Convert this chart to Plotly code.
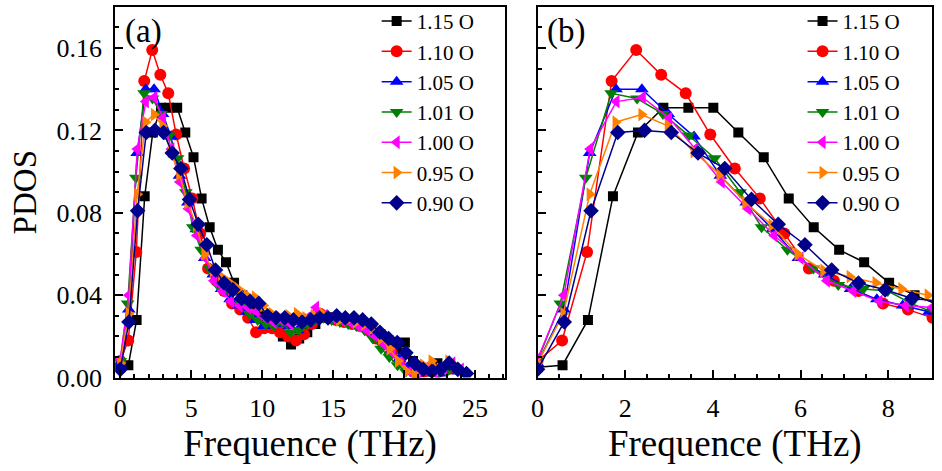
import plotly.graph_objects as go

labels = ["1.15 O", "1.10 O", "1.05 O", "1.01 O", "1.00 O", "0.95 O", "0.90 O"]
colors = ["#000000", "#FF0000", "#0000FF", "#008000", "#FF00FF", "#FF8000", "#00008B"]
symbols = ["square", "circle", "triangle-up", "triangle-down", "triangle-left", "triangle-right", "diamond"]
msizes = [10, 12, 12, 12, 12, 12, 12]

# frequency grids (THz) for each series
x_115 = [0.00, 0.57, 1.15, 1.72, 2.29, 2.87, 3.44, 4.01, 4.58, 5.16, 5.73, 6.30, 6.88, 7.45, 8.02, 8.60,
         9.17, 9.74, 10.31, 10.89, 11.46, 12.03, 12.61, 13.18, 13.75, 14.33, 14.90, 15.47, 16.04, 16.62,
         17.19, 17.76, 18.34, 18.91, 19.48, 20.06, 20.63, 21.20, 21.77, 22.35]
y_115 = [0.005, 0.006, 0.028, 0.088, 0.119, 0.131, 0.131, 0.131, 0.119, 0.107, 0.087, 0.073, 0.062, 0.056, 0.046, 0.040,
         0.035, 0.031, 0.028, 0.025, 0.020, 0.016, 0.019, 0.022, 0.026, 0.029, 0.029, 0.028, 0.027, 0.026,
         0.025, 0.023, 0.021, 0.018, 0.014, 0.017, 0.008, 0.004, 0.003, 0.007]

x_110 = [0.00, 0.56, 1.13, 1.69, 2.25, 2.82, 3.38, 3.94, 4.50, 5.07, 5.63, 6.19, 6.76, 7.32, 7.88, 8.45,
         9.01, 9.57, 10.14, 10.70, 11.26, 11.83, 12.39, 12.95, 13.51, 14.08, 14.64, 15.20, 15.77, 16.33,
         16.89, 17.46, 18.02, 18.58, 19.14, 19.71, 20.27, 20.83, 21.40, 21.96, 22.52, 23.09]
y_110 = [0.008, 0.018, 0.061, 0.144, 0.159, 0.147, 0.138, 0.118, 0.1015, 0.087, 0.070, 0.053, 0.047, 0.042, 0.036, 0.033,
         0.029, 0.022, 0.024, 0.024, 0.022, 0.020, 0.018, 0.021, 0.026, 0.031, 0.029, 0.028, 0.027, 0.026,
         0.025, 0.023, 0.019, 0.016, 0.012, 0.008, 0.004, 0.002, 0.003, 0.005, 0.003, 0.004]

x_105 = [0.00, 0.60, 1.19, 1.79, 2.38, 2.98, 3.57, 4.17, 4.76, 5.36, 5.95, 6.55, 7.14, 7.74, 8.33, 8.93,
         9.52, 10.12, 10.71, 11.31, 11.90, 12.50, 13.09, 13.69, 14.28, 14.88, 15.47, 16.07, 16.66, 17.26,
         17.85, 18.45, 19.04, 19.64, 20.23, 20.83, 21.42, 22.02, 22.61, 23.21, 23.80]
y_105 = [0.007, 0.033, 0.109, 0.140, 0.140, 0.128, 0.117, 0.098, 0.085, 0.072, 0.058, 0.050, 0.043, 0.038, 0.035, 0.032,
         0.028, 0.025, 0.027, 0.026, 0.025, 0.023, 0.026, 0.028, 0.030, 0.029, 0.028, 0.027, 0.026, 0.025,
         0.022, 0.018, 0.013, 0.009, 0.005, 0.002, 0.003, 0.004, 0.002, 0.005, 0.003]

x_101 = [0.00, 0.52, 1.10, 1.68, 2.27, 2.86, 3.45, 4.04, 4.62, 5.11, 5.70, 6.29, 6.86, 7.43, 7.99, 8.52,
         9.10, 9.68, 10.26, 10.84, 11.42, 12.00, 12.58, 13.16, 13.74, 14.32, 14.90, 15.48, 16.06, 16.64,
         17.22, 17.80, 18.38, 18.96, 19.54, 20.12, 20.70, 21.28, 21.86, 22.44, 23.02]
y_101 = [0.008, 0.036, 0.097, 0.138, 0.1355, 0.128, 0.1175, 0.1065, 0.090, 0.073, 0.062, 0.053, 0.045, 0.043, 0.042, 0.036,
         0.031, 0.028, 0.026, 0.025, 0.027, 0.022, 0.023, 0.026, 0.028, 0.029, 0.028, 0.027, 0.026, 0.025,
         0.023, 0.019, 0.014, 0.010, 0.006, 0.003, 0.002, 0.004, 0.003, 0.002, 0.003]

x_100 = [0.0, 0.6, 1.2, 1.8, 2.4, 3.0, 3.6, 4.2, 4.8, 5.4, 6.0, 6.6, 7.2, 7.8, 8.4, 9.0,
         9.6, 10.2, 10.8, 11.4, 12.0, 12.6, 13.2, 13.8, 14.4, 15.0, 15.6, 16.2, 16.8, 17.4,
         18.0, 18.6, 19.2, 19.8, 20.4, 21.0, 21.6, 22.2, 22.8, 23.4, 24.0]
y_100 = [0.009, 0.040, 0.111, 0.134, 0.136, 0.126, 0.111, 0.095, 0.082, 0.069, 0.058, 0.047, 0.042, 0.037, 0.035, 0.034,
         0.032, 0.029, 0.027, 0.028, 0.026, 0.027, 0.029, 0.034, 0.030, 0.029, 0.028, 0.027, 0.025, 0.023,
         0.020, 0.016, 0.012, 0.008, 0.003, 0.002, 0.005, 0.002, 0.004, 0.007, 0.004]

x_095 = [0.00, 0.59, 1.19, 1.78, 2.37, 2.97, 3.56, 4.15, 4.74, 5.34, 5.93, 6.52, 7.12, 7.71, 8.30, 8.90,
         9.49, 10.08, 10.67, 11.27, 11.86, 12.45, 13.05, 13.64, 14.23, 14.83, 15.42, 16.01, 16.60, 17.20,
         17.79, 18.38, 18.98, 19.57, 20.16, 20.76, 21.35, 21.94, 22.53, 23.13, 23.72]
y_095 = [0.007, 0.031, 0.089, 0.124, 0.1277, 0.1222, 0.1097, 0.0987, 0.085, 0.074, 0.060, 0.052, 0.049, 0.046, 0.043, 0.040,
         0.039, 0.035, 0.031, 0.029, 0.030, 0.031, 0.029, 0.030, 0.031, 0.029, 0.028, 0.028, 0.027, 0.026,
         0.024, 0.019, 0.014, 0.008, 0.003, 0.001, 0.006, 0.008, 0.004, 0.008, 0.005]

x_090 = [0.00, 0.61, 1.22, 1.83, 2.44, 3.05, 3.66, 4.27, 4.88, 5.49, 6.10, 6.71, 7.32, 7.93, 8.54, 9.15,
         9.76, 10.37, 10.98, 11.59, 12.20, 12.81, 13.42, 14.03, 14.64, 15.25, 15.86, 16.47, 17.08, 17.69,
         18.30, 18.91, 19.52, 20.13, 20.74, 21.35, 21.96, 22.57, 23.18, 23.79, 24.40]
y_090 = [0.004, 0.027, 0.081, 0.119, 0.120, 0.119, 0.109, 0.1015, 0.0865, 0.0744, 0.0645, 0.0522, 0.0459, 0.0426, 0.0384, 0.037,
         0.036, 0.030, 0.029, 0.029, 0.028, 0.027, 0.028, 0.029, 0.029, 0.030, 0.029, 0.029, 0.028, 0.026,
         0.022, 0.019, 0.017, 0.012, 0.007, 0.004, 0.003, 0.004, 0.007, 0.004, 0.002]

xs = [x_115, x_110, x_105, x_101, x_100, x_095, x_090]
ys = [y_115, y_110, y_105, y_101, y_100, y_095, y_090]

FONT = "Liberation Serif"
fig = go.Figure()

for i in range(len(labels)):
    for ax, leg in (("", "legend"), ("2", "legend2")):
        fig.add_trace(go.Scatter(
            x=xs[i], y=ys[i], mode="lines+markers", name=labels[i],
            line=dict(color=colors[i], width=1.5),
            marker=dict(symbol=symbols[i], size=msizes[i], color=colors[i]),
            xaxis="x" + ax, yaxis="y" + ax, legend=leg, showlegend=True))

axis_common = dict(showline=True, linecolor="black", linewidth=2, mirror=True,
                   ticks="inside", ticklen=8, tickwidth=1.5, tickcolor="black",
                   showgrid=False, zeroline=False, ticklabelstandoff=6,
                   tickfont=dict(family=FONT, size=26, color="black"))

fig.update_layout(
    width=942, height=471,
    margin=dict(l=0, r=0, t=0, b=0),
    paper_bgcolor="white", plot_bgcolor="white",
    font=dict(family=FONT, color="black"),
    xaxis=dict(domain=[0.1168, 0.5329], range=[-0.35, 27.1], dtick=5, tick0=0,
               minor=dict(dtick=1, ticks="inside", ticklen=4, tickcolor="black"),
               title=dict(text="Frequence (THz)", font=dict(family=FONT, size=37), standoff=2),
               anchor="y", **axis_common),
    yaxis=dict(domain=[0.172, 0.985], range=[0, 0.18], dtick=0.04, tick0=0, tickformat=".2f",
               minor=dict(dtick=0.01, ticks="inside", ticklen=4, tickcolor="black"),
               title=dict(text="PDOS", font=dict(family=FONT, size=33), standoff=10),
               anchor="x", **axis_common),
    xaxis2=dict(domain=[0.5679, 0.9894], range=[0, 9], dtick=2, tick0=0,
                minor=dict(dtick=0.5, ticks="inside", ticklen=4, tickcolor="black"),
                title=dict(text="Frequence (THz)", font=dict(family=FONT, size=37), standoff=2),
                anchor="y2", **axis_common),
    yaxis2=dict(domain=[0.172, 0.985], range=[0, 0.18], dtick=0.04, tick0=0,
                minor=dict(dtick=0.01, ticks="inside", ticklen=4, tickcolor="black"),
                showticklabels=False, anchor="x2", **axis_common),
    legend=dict(x=0.396, y=0.998, xanchor="left", yanchor="top", bgcolor="rgba(0,0,0,0)",
                font=dict(family=FONT, size=21), itemwidth=30, tracegroupgap=0),
    legend2=dict(x=0.851, y=0.998, xanchor="left", yanchor="top", bgcolor="rgba(0,0,0,0)",
                 font=dict(family=FONT, size=21), itemwidth=30, tracegroupgap=0),
    annotations=[
        dict(text="(a)", x=0.125, y=0.975, xref="paper", yref="paper", xanchor="left", yanchor="top",
             showarrow=False, font=dict(family=FONT, size=33)),
        dict(text="(b)", x=0.576, y=0.975, xref="paper", yref="paper", xanchor="left", yanchor="top",
             showarrow=False, font=dict(family=FONT, size=33)),
    ],
)

fig.write_html("out.html")
